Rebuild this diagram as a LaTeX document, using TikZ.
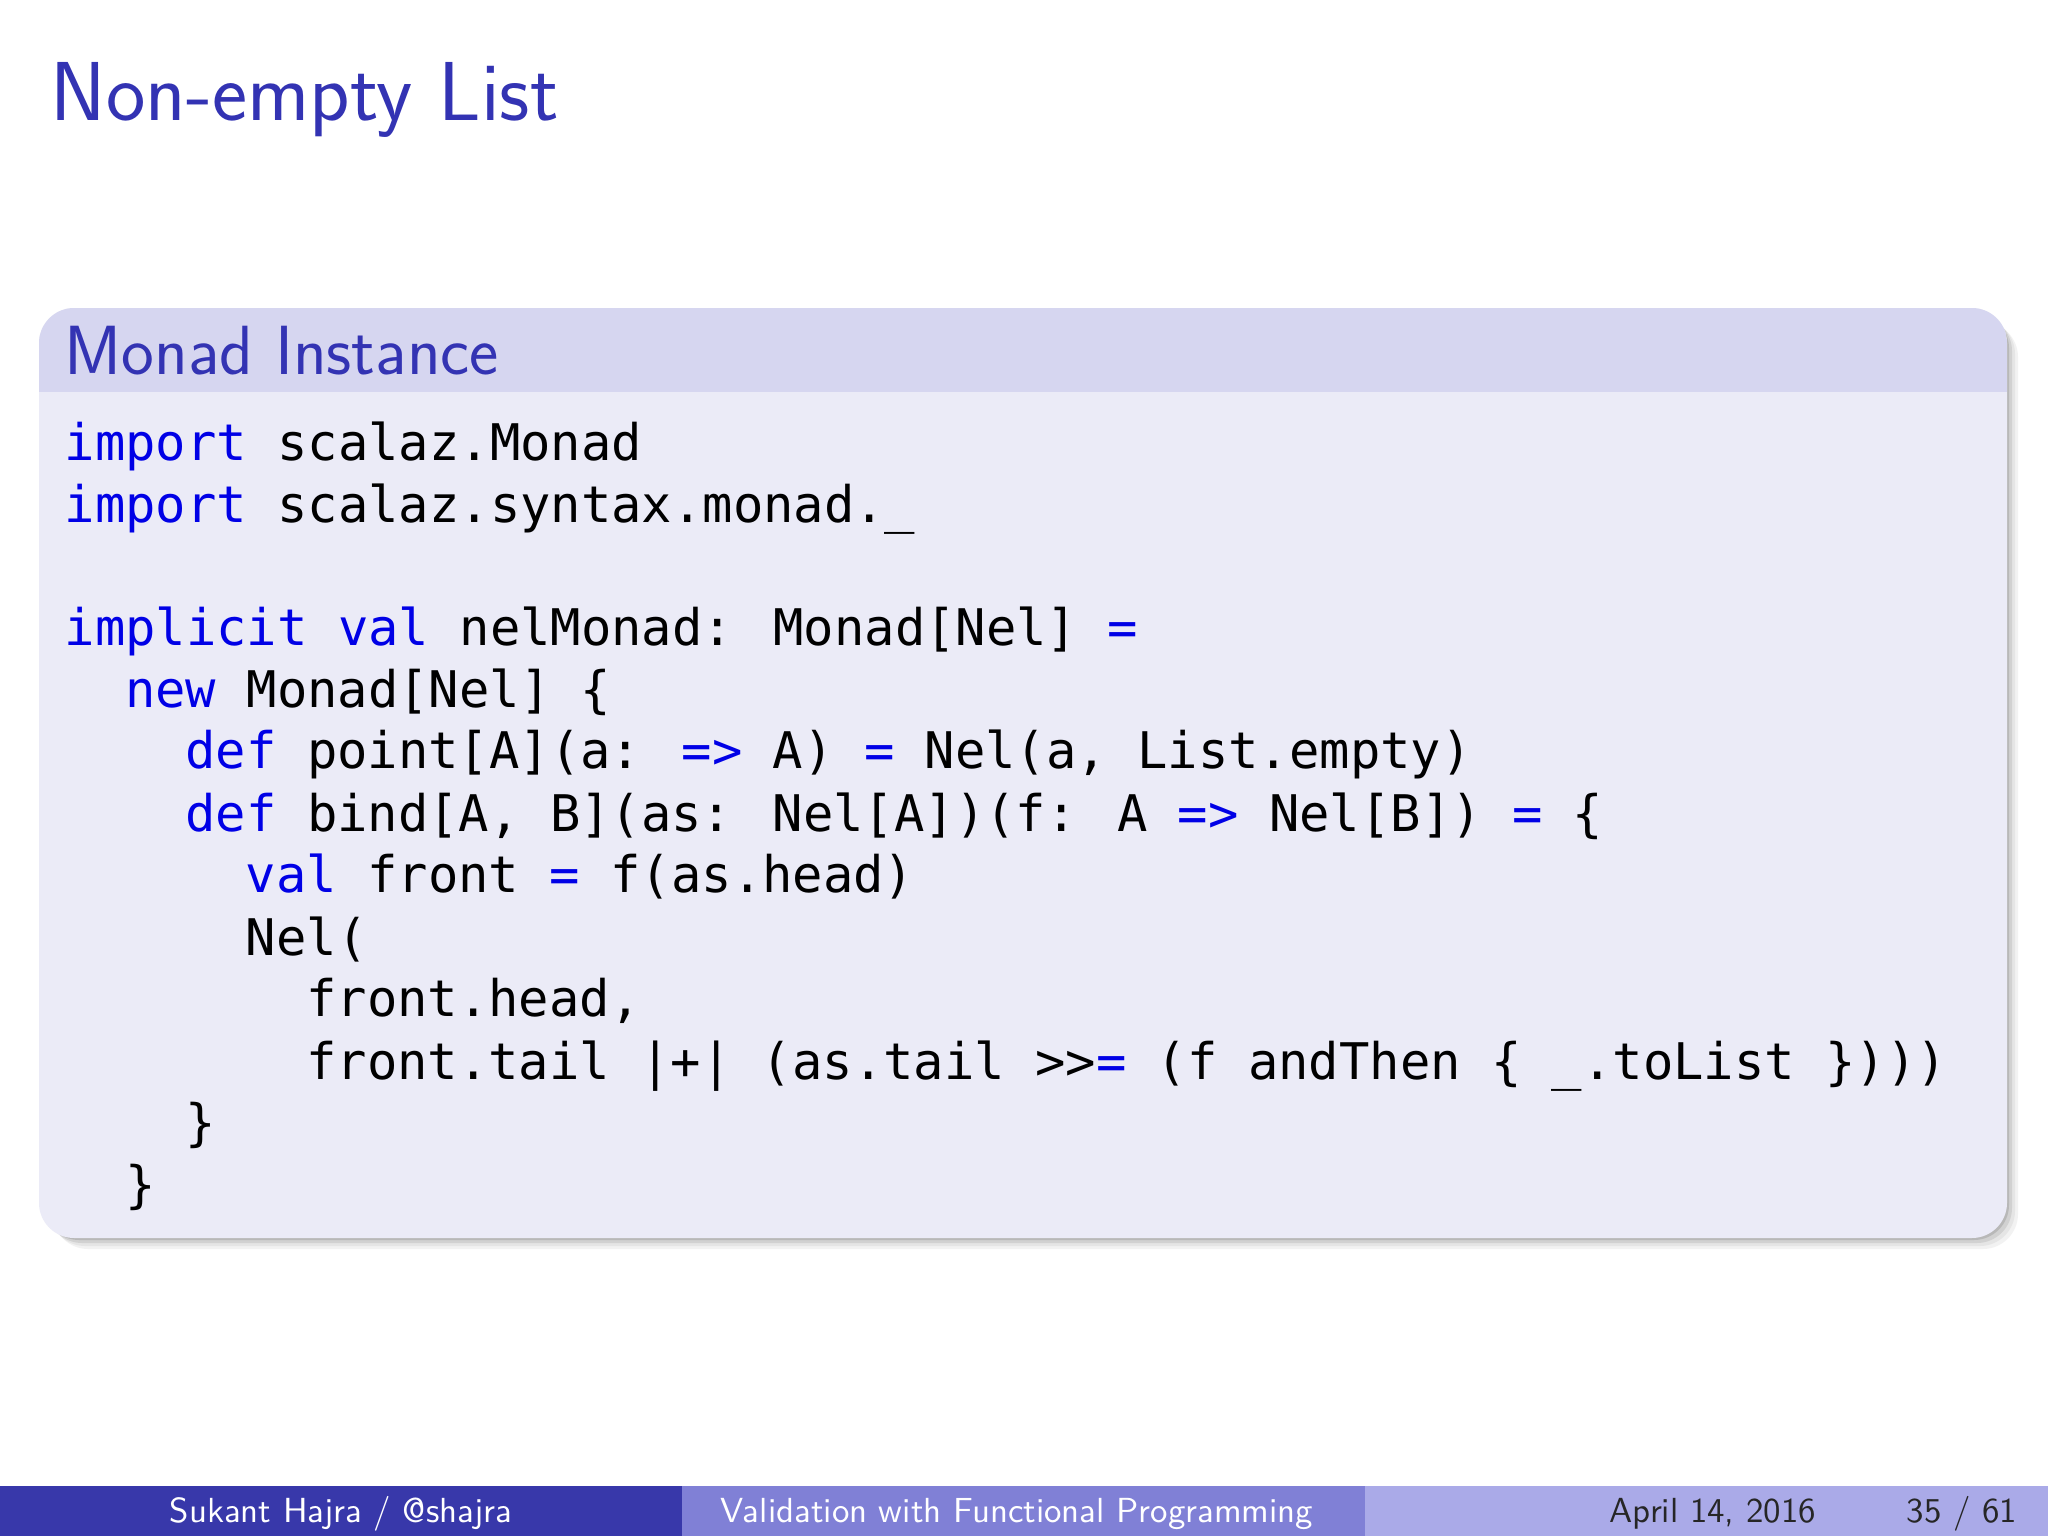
\documentclass[tikz,border=0pt]{standalone}
\usepackage{fontspec}
\newfontfamily\codef{DejaVu Sans Mono}
\definecolor{titleblue}{RGB}{51,51,179}
\definecolor{hdrbg}{RGB}{214,214,240}
\definecolor{bodybg}{RGB}{235,235,247}
\definecolor{kw}{RGB}{0,0,230}
\definecolor{foot1}{RGB}{56,56,170}
\definecolor{foot2}{RGB}{128,128,214}
\definecolor{foot3}{RGB}{170,170,232}
\newcommand{\K}[1]{\textcolor{kw}{#1}}
\tikzset{
  codeline/.style={anchor=base west,inner sep=0pt,font=\codef\fontsize{14.35}{17}\selectfont},
  foottext/.style={anchor=base,inner sep=0pt,font=\sffamily\fontsize{9.9}{11}\selectfont}
}
\begin{document}
\begin{tikzpicture}[x=0.01cm,y=-0.01cm]
\useasboundingbox (0,0) rectangle (2048,1536);
\fill[white] (0,0) rectangle (2048,1536);
\node[anchor=base west,inner sep=0pt,text=titleblue,font=\sffamily\fontsize{23.8}{28}\selectfont] (title) at (50,120) {Non-empty List};
% shadow
\foreach \i/\c in {14/5,11/10,8/18,5/28}{
  \fill[black!\c,rounded corners=10] (39+\i,308+\i) rectangle (2007+\i-3,1238+\i-3);
}
\fill[bodybg,rounded corners=10] (39,308) rectangle (2007,1238);
\begin{scope}
\clip[rounded corners=10] (39,308) rectangle (2007,1238);
\fill[hdrbg] (39,308) rectangle (2007,392);
\end{scope}
\node[anchor=base west,inner sep=0pt,text=titleblue,font=\sffamily\fontsize{19.8}{24}\selectfont] (hdr) at (64,374) {Monad Instance};
\node[codeline] (l1) at (64,460) {\K{import} scalaz.Monad};
\node[codeline] (l2) at (64,522) {\K{import} scalaz.syntax.monad.\_};
\node[codeline] (l3) at (64,645) {\K{implicit} \K{val} nelMonad: Monad[Nel] \K{=}};
\node[codeline] (l4) at (124.4,707) {\K{new} Monad[Nel] \{};
\node[codeline] (l5) at (184.8,768) {\K{def} point[A](a: \K{=>} A) \K{=} Nel(a, List.empty)};
\node[codeline] (l6) at (184.8,831) {\K{def} bind[A, B](as: Nel[A])(f: A \K{=>} Nel[B]) \K{=} \{};
\node[codeline] (l7) at (245.2,892) {\K{val} front \K{=} f(as.head)};
\node[codeline] (l8) at (245.2,955) {Nel(};
\node[codeline] (l9) at (305.6,1016) {front.head,};
\node[codeline] (l10) at (305.6,1079) {front.tail |+| (as.tail >>\K{=} (f andThen \{ \_.toList \})))};
\node[codeline] (l11) at (184.8,1140) {\}};
\node[codeline] (l12) at (124.4,1202) {\}};
% footer
\fill[foot1] (0,1486) rectangle (682,1536);
\fill[foot2] (682,1486) rectangle (1365,1536);
\fill[foot3] (1365,1486) rectangle (2048,1536);
\node[foottext,text=white] (f1) at (341,1522) {Sukant Hajra / @shajra};
\node[foottext,text=white,anchor=base west] (f2) at (720,1522) {Validation with Functional Programming};
\node[foottext,text=black!85,anchor=base west] (f3) at (1609,1522) {April 14, 2016};
\node[foottext,text=black!85,anchor=base west] (f4) at (1906,1522) {35 / 61};
\end{tikzpicture}
\end{document}
